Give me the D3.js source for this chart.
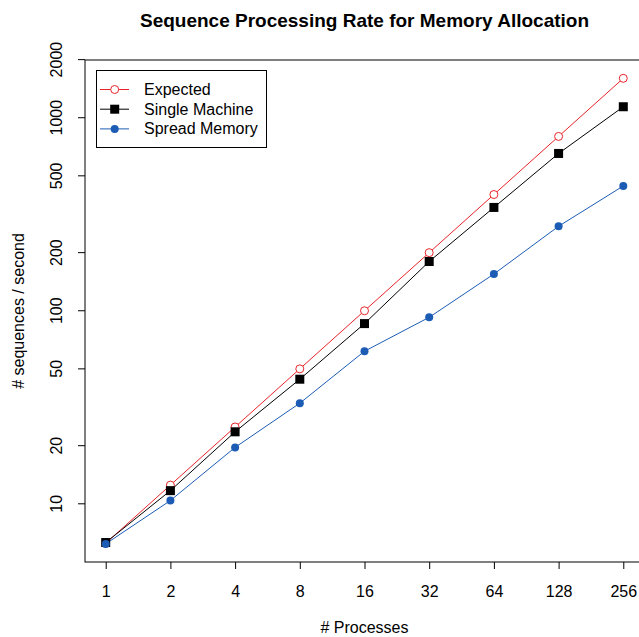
<!DOCTYPE html>
<html>
<head>
<meta charset="utf-8">
<script src="https://cdn.jsdelivr.net/npm/d3@7"></script>
<style>
  body { margin: 0; background: #fff; }
  text { font-family: "Liberation Sans", Arial, Helvetica, sans-serif; fill: #000; }
</style>
</head>
<body>
<svg id="chart" width="639" height="637"></svg>
<script>
// Data
const processes = [1, 2, 4, 8, 16, 32, 64, 128, 256];
const expected = [6.25, 12.5, 25, 50, 100, 200, 400, 800, 1600];
const singleMachine = [6.3, 11.7, 23.6, 44.2, 85.8, 180, 343, 653, 1140];
const spreadMemory = [6.2, 10.4, 19.6, 33.2, 61.7, 92.5, 155, 274, 443];
const yTicks = [10, 20, 50, 100, 200, 500, 1000, 2000];
const seriesNames = ['Expected', 'Single Machine', 'Spread Memory'];
const seriesColors = ['#e8242a', '#000000', '#1c5cb4'];

const svg = d3.select('#chart');

// R style: data range padded by 4% on each side
const pad = (lo, hi, base) => {
  const a = Math.log(lo) / Math.log(base);
  const b = Math.log(hi) / Math.log(base);
  const d = (b - a) * 0.04;
  return [Math.pow(base, a - d), Math.pow(base, b + d)];
};
const allY = expected.concat(singleMachine, spreadMemory);

const x = d3.scaleLog().base(2)
  .domain(pad(d3.min(processes), d3.max(processes), 2))
  .range([85, 644]);

const y = d3.scaleLog()
  .domain(pad(d3.min(allY), d3.max(allY), 10))
  .range([562.5, 59.7]);

// box
svg.append('rect')
  .attr('x', 85).attr('y', 60)
  .attr('width', 559).attr('height', 502)
  .attr('fill', 'none')
  .attr('stroke', '#000');

// x axis
const xAxis = svg.append('g')
  .attr('transform', 'translate(0,562)')
  .call(d3.axisBottom(x).tickValues(processes).tickFormat(d3.format('d')).tickSizeOuter(0).tickSize(7).tickPadding(17));
xAxis.select('.domain').remove();
xAxis.selectAll('text').style('font-size', '16px');

// y axis, labels turned like R's las=0
const yAxis = svg.append('g')
  .attr('transform', 'translate(85,0)')
  .call(d3.axisLeft(y).tickValues(yTicks).tickFormat(d3.format('d')).tickSizeOuter(0).tickSize(7));
yAxis.select('.domain').remove();
yAxis.selectAll('.tick').attr('transform', null);
yAxis.selectAll('.tick line').attr('y1', (d) => y(d)).attr('y2', (d) => y(d));
yAxis.selectAll('text')
  .style('font-size', '16px')
  .attr('text-anchor', 'middle')
  .attr('x', 0).attr('y', 0).attr('dy', 0)
  .attr('transform', (d) => `translate(-23.5,${y(d)}) rotate(-90)`);

// lines and points
const series = [expected, singleMachine, spreadMemory];
const line = d3.line()
  .x((d, i) => x(processes[i]))
  .y((d) => y(d));

series.forEach((values, s) => {
  svg.append('path')
    .datum(values)
    .attr('d', line)
    .attr('fill', 'none')
    .attr('stroke', seriesColors[s])
    .attr('stroke-width', 1);
});

function drawMarker(g, s, cx, cy) {
  if (s === 0) {
    g.append('circle').attr('cx', cx).attr('cy', cy).attr('r', 4)
      .attr('fill', '#fff').attr('stroke', seriesColors[0]).attr('stroke-width', 1);
  } else if (s === 1) {
    g.append('rect').attr('x', cx - 4.5).attr('y', cy - 4.5)
      .attr('width', 9).attr('height', 9).attr('fill', seriesColors[1]);
  } else {
    g.append('circle').attr('cx', cx).attr('cy', cy).attr('r', 4)
      .attr('fill', seriesColors[2]);
  }
}

series.forEach((values, s) => {
  const g = svg.append('g');
  values.forEach((v, i) => drawMarker(g, s, x(processes[i]), y(v)));
});

// legend
const legend = svg.append('g');
legend.append('rect')
  .attr('x', 96.5).attr('y', 70.5)
  .attr('width', 170).attr('height', 77)
  .attr('fill', '#fff')
  .attr('stroke', '#000');
seriesNames.forEach((name, s) => {
  const ly = 89.5 + s * 19.7;
  legend.append('line')
    .attr('x1', 100).attr('x2', 129)
    .attr('y1', ly).attr('y2', ly)
    .attr('stroke', seriesColors[s]);
  drawMarker(legend, s, 114.7, ly);
  legend.append('text')
    .attr('x', 144).attr('y', ly + 5.5)
    .style('font-size', '16px')
    .text(name);
});

// titles
svg.append('text')
  .attr('x', 364.5).attr('y', 27)
  .attr('text-anchor', 'middle')
  .style('font-size', '19px')
  .style('font-weight', 'bold')
  .text('Sequence Processing Rate for Memory Allocation');

svg.append('text')
  .attr('x', 364.5).attr('y', 633)
  .attr('text-anchor', 'middle')
  .style('font-size', '16px')
  .text('# Processes');

svg.append('text')
  .attr('transform', 'translate(24,311) rotate(-90)')
  .attr('text-anchor', 'middle')
  .style('font-size', '16px')
  .text('# sequences / second');
</script>
</body>
</html>
